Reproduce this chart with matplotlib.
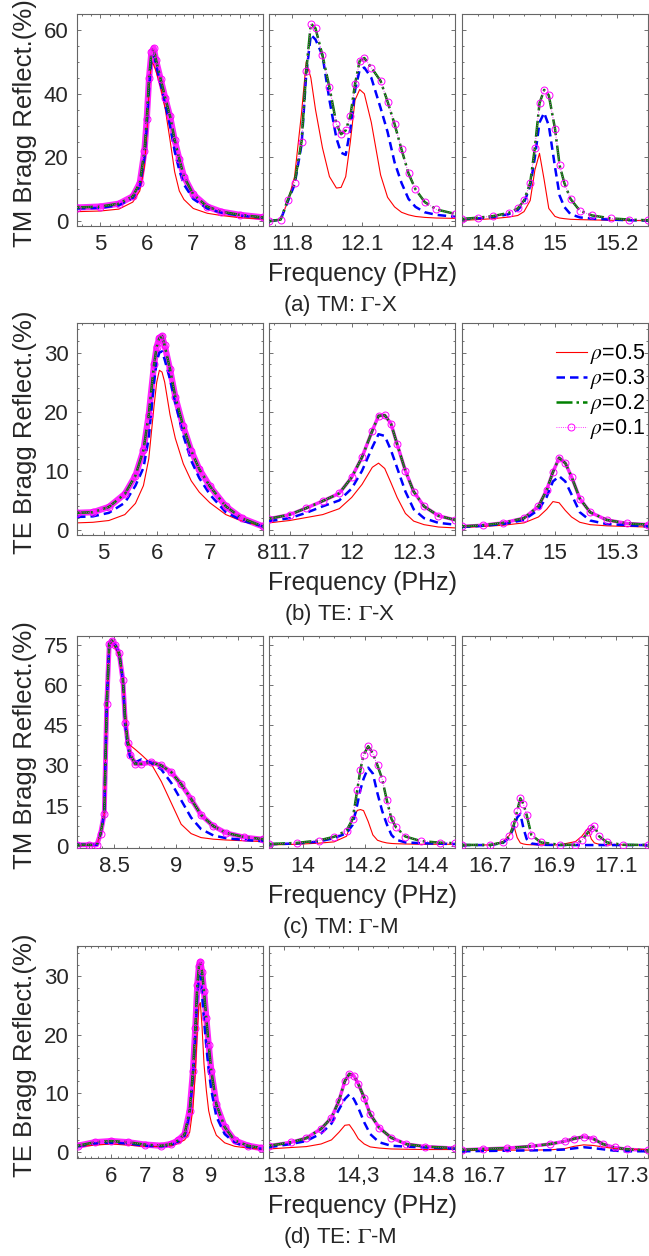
import matplotlib
matplotlib.use('Agg')
import matplotlib.pyplot as plt
from matplotlib.ticker import AutoMinorLocator

plt.rcParams['font.family'] = ['Liberation Sans', 'DejaVu Sans']
plt.rcParams['mathtext.fontset'] = 'stix'

# Bragg reflectance (%) vs frequency (PHz), four filling ratios rho = 0.5, 0.3, 0.2, 0.1
# green (rho=0.2) lies on top of the magenta (rho=0.1) curve everywhere

# ---- (a) TM, Gamma-X
a1_f = [4.5, 5.0, 5.4, 5.7, 5.85, 5.95, 6.0, 6.05, 6.1, 6.15, 6.2, 6.3, 6.4, 6.5, 6.6, 6.7, 6.8, 7.0, 7.3, 7.6, 8.0, 8.5]
a1_r05 = [3.0, 3.2, 3.8, 6.0, 9.5, 17, 27, 41, 50, 49, 47, 42, 35, 25.5, 15.5, 9.5, 6.8, 4.0, 2.5, 1.8, 1.1, 0.7]
a1_r03 = [4.0, 4.2, 5.0, 7.3, 11, 20, 30, 42, 51, 52, 49, 43, 36.5, 30, 22, 16, 11.5, 7.0, 4.0, 2.7, 1.8, 1.1]
a1_r01 = [4.3, 4.6, 5.5, 7.8, 12, 22, 32, 45, 53, 54.3, 50.5, 44.5, 38.5, 33, 25.5, 19.5, 14, 8.4, 4.6, 3.0, 2.0, 1.2]
a1_r02 = a1_r01

a2_f = [11.70, 11.75, 11.78, 11.81, 11.84, 11.86, 11.88, 11.90, 11.93, 11.96, 11.99, 12.01, 12.03, 12.05,
        12.07, 12.09, 12.11, 12.14, 12.18, 12.21, 12.24, 12.27, 12.30, 12.33, 12.37, 12.42, 12.50]
a2_r05 = [0.0, 0.5, 6, 14, 34, 50, 45, 35, 23, 14, 10.4, 10.6, 14, 25, 38, 41.3, 40.0, 31, 14.5, 7.5,
          4.5, 2.8, 2.0, 1.5, 1.2, 1.0, 0.9]
a2_r03 = [0.0, 0.5, 6, 11.5, 24, 46, 58.5, 57, 52, 38, 26, 21.5, 20.8, 29, 41, 47.5, 48.2, 45, 35.5, 28,
          18.5, 12, 7, 4.5, 2.8, 2.0, 1.4]
a2_r01 = [0.0, 0.5, 6.5, 12, 25, 47, 62, 60.5, 52, 42, 30.5, 27.3, 28.5, 33, 43, 50.3, 51.2, 48.2, 44, 37.5,
          30.5, 22.5, 15, 10, 6, 3.7, 2.3]
a2_r02 = a2_r01

a3_f = [14.70, 14.75, 14.80, 14.85, 14.88, 14.90, 14.92, 14.935, 14.95, 14.965, 14.98, 15.0, 15.015, 15.03,
        15.05, 15.08, 15.12, 15.18, 15.24, 15.30]
a3_r05 = [0.3, 0.5, 0.8, 1.3, 1.8, 3.0, 6.5, 16, 21.3, 13, 4, 1.5, 1.0, 0.8, 0.6, 0.5, 0.4, 0.3, 0.2, 0.2]
a3_r03 = [0.6, 0.9, 1.3, 2.2, 3.5, 5.8, 11, 20, 31, 34, 30, 17, 8, 4.5, 2.2, 1.2, 0.8, 0.5, 0.3, 0.2]
a3_r01 = [0.7, 1.1, 1.6, 2.6, 4.0, 6.5, 12, 23, 37, 41.2, 39.5, 29, 17.5, 12, 7, 3.3, 1.8, 0.9, 0.5, 0.3]
a3_r02 = a3_r01

# ---- (b) TE, Gamma-X
b1_f = [4.5, 4.8, 5.1, 5.4, 5.6, 5.75, 5.85, 5.95, 6.0, 6.05, 6.1, 6.15, 6.25, 6.35, 6.5, 6.65, 6.8, 7.0,
        7.3, 7.6, 8.0]
b1_r05 = [1.2, 1.3, 1.6, 2.6, 4.5, 7.5, 12, 21, 25, 27, 26.7, 25, 19.5, 15.5, 11.2, 8.3, 6.4, 4.6, 2.6, 1.5, 0.6]
b1_r03 = [2.2, 2.3, 2.9, 4.6, 7.5, 10.5, 15.5, 25, 28.5, 30, 30.2, 28.8, 25.5, 21.5, 16, 11.7, 8.8, 6.0, 3.0, 1.6, 0.6]
b1_r01 = [2.9, 3.0, 3.9, 6.1, 9.2, 13.5, 19.5, 28, 31, 32.5, 32.8, 31.2, 27.2, 22.5, 17.5, 13.4, 10.3, 7.4, 4.0, 2.0, 0.6]
b1_r02 = b1_r01

b2_f = [11.6, 11.7, 11.78, 11.86, 11.94, 12.0, 12.05, 12.1, 12.13, 12.16, 12.19, 12.22, 12.26, 12.3, 12.35, 12.42, 12.5]
b2_r05 = [1.2, 1.6, 2.1, 2.6, 3.6, 5.5, 7.7, 10.6, 11.3, 10.4, 8, 5.5, 2.8, 1.5, 0.9, 0.5, 0.35]
b2_r03 = [1.5, 2.0, 2.9, 4.0, 5.0, 7.0, 10, 14, 16.2, 15.9, 13.5, 10.5, 6.5, 3.5, 2.0, 1.2, 0.9]
b2_r01 = [1.9, 2.6, 3.7, 4.9, 6.2, 8.9, 12.3, 16.8, 19.3, 19.4, 18, 14.5, 10, 6.5, 4.0, 2.4, 1.7]
b2_r02 = b2_r01

b3_f = [14.55, 14.65, 14.75, 14.85, 14.92, 14.96, 14.99, 15.02, 15.05, 15.08, 15.12, 15.17, 15.25, 15.35, 15.45]
b3_r05 = [0.45, 0.6, 0.8, 1.2, 2.2, 3.5, 4.8, 4.6, 3.3, 2.2, 1.3, 0.9, 0.7, 0.6, 0.5]
b3_r03 = [0.5, 0.7, 1.0, 1.7, 3.4, 5.6, 8.2, 9.1, 8.2, 6, 3.0, 1.6, 1.0, 0.8, 0.6]
b3_r01 = [0.6, 0.8, 1.2, 2.0, 4.0, 6.8, 9.8, 12.2, 11.3, 9, 5.3, 3.0, 1.7, 1.1, 0.9]
b3_r02 = b3_r01

# ---- (c) TM, Gamma-M
c1_f = [8.2, 8.3, 8.36, 8.39, 8.42, 8.44, 8.46, 8.48, 8.51, 8.54, 8.57, 8.59, 8.61, 8.63, 8.67, 8.72, 8.8,
        8.88, 8.96, 9.04, 9.12, 9.2, 9.3, 9.4, 9.55, 9.7]
c1_r05 = [0.3, 0.3, 0.3, 4.5, 12, 53, 75.8, 76, 74, 71, 62, 50, 39, 37.5, 36, 34, 30.5, 24, 16, 8, 4.5, 3.0,
          2.4, 2.1, 1.8, 1.5]
c1_r03 = [0.3, 0.3, 0.3, 4.5, 12, 53, 75.5, 76.8, 75, 72, 62, 45, 37, 33, 31.2, 32.3, 31, 28.5, 23.5, 17,
          10.5, 6.2, 3.8, 2.8, 2.1, 1.6]
c1_r01 = [0.3, 0.3, 0.3, 4.5, 12, 53, 75.5, 76.8, 75, 72, 62, 46, 38.5, 34, 30.6, 30.6, 31.2, 30, 27.5, 23,
          17.5, 11.5, 7.3, 4.8, 3.2, 2.4]
c1_r02 = c1_r01

c2_f = [13.89, 13.98, 14.05, 14.1, 14.14, 14.16, 14.175, 14.185, 14.195, 14.21, 14.225, 14.24, 14.255, 14.27,
        14.285, 14.3, 14.33, 14.38, 14.44, 14.49]
c2_r05 = [0.25, 0.5, 0.9, 1.4, 3.5, 10, 13.2, 13.5, 13.1, 9, 4, 2, 1.4, 1.0, 0.8, 0.7, 0.6, 0.5, 0.5, 0.5]
c2_r03 = [0.5, 0.8, 1.5, 2.8, 4.6, 7.8, 15.5, 21, 25, 29.2, 27, 19.5, 13, 8, 4, 2.2, 1.2, 0.9, 0.7, 0.6]
c2_r01 = [0.6, 1.0, 1.9, 3.3, 5.6, 10, 21, 28.5, 34, 37.2, 34.5, 30, 25, 17, 10, 6.8, 3.4, 1.7, 1.1, 0.9]
c2_r02 = c2_r01

c3_f = [16.61, 16.7, 16.74, 16.76, 16.775, 16.785, 16.795, 16.805, 16.815, 16.83, 16.86, 16.92, 16.97, 16.99,
        17.01, 17.02, 17.03, 17.045, 17.07, 17.12, 17.2]
c3_r05 = [0.25, 0.25, 1.5, 3.8, 7.2, 3.0, 1.0, 0.6, 0.4, 0.3, 0.3, 0.3, 1.5, 3.5, 6.5, 2.5, 1.0, 0.5, 0.3, 0.3, 0.25]
c3_r03 = [0.2, 0.2, 1.0, 3.0, 7, 10.5, 11.9, 6.5, 2.5, 0.8, 0.3, 0.2, 0.2, 0.2, 0.2, 0.2, 0.2, 0.2, 0.2, 0.2, 0.2]
c3_r01 = [0.25, 0.25, 1.2, 3.5, 8, 13, 17.7, 15.5, 11.5, 4, 1.2, 0.3, 0.3, 2.0, 5.0, 6.5, 7.3, 3.5, 1.2, 0.3, 0.25]
c3_r02 = c3_r01

# ---- (d) TE, Gamma-M
d1_f = [5.0, 5.5, 6.0, 6.5, 7.0, 7.5, 7.8, 8.0, 8.2, 8.35, 8.45, 8.52, 8.58, 8.63, 8.67, 8.72, 8.78, 8.85,
        8.92, 9.0, 9.15, 9.4, 9.7, 10.1, 10.5]
d1_r05 = [0.85, 1.1, 1.3, 1.1, 0.9, 0.85, 1.0, 1.4, 2.0, 3.3, 7.5, 13.5, 21, 25, 25.5, 21.5, 15, 10.5, 7, 5,
          2.8, 1.5, 0.9, 0.6, 0.4]
d1_r03 = [0.9, 1.4, 1.5, 1.4, 1.0, 0.9, 1.1, 1.7, 2.7, 6.5, 13, 20, 27, 29.8, 30.3, 27, 22.5, 18, 14, 10.5,
          6.0, 3.0, 1.5, 0.8, 0.5]
d1_r01 = [1.0, 1.6, 1.8, 1.6, 1.2, 1.0, 1.3, 1.9, 3.0, 7.0, 13.8, 21.2, 28.6, 31.8, 32.5, 30.8, 27.5, 22.8,
          18.3, 13.8, 8.1, 4.2, 1.9, 1.0, 0.6]
d1_r02 = d1_r01

d2_f = [13.7, 13.85, 13.95, 14.05, 14.12, 14.17, 14.21, 14.24, 14.27, 14.3, 14.34, 14.38, 14.44, 14.52,
        14.62, 14.75, 14.95]
d2_r05 = [0.45, 0.7, 0.85, 1.3, 2.0, 3.3, 4.5, 4.6, 3.5, 2.2, 1.3, 0.8, 0.6, 0.45, 0.4, 0.35, 0.35]
d2_r03 = [0.75, 1.3, 1.8, 3.1, 4.8, 7.2, 9.0, 9.8, 9.0, 7.5, 5.0, 3.0, 1.6, 1.0, 0.85, 0.7, 0.5]
d2_r01 = [1.0, 1.6, 2.3, 3.9, 5.8, 8.7, 12.1, 13.3, 13, 11.6, 9.2, 6.4, 4.1, 2.4, 1.3, 0.85, 0.6]
d2_r02 = d2_r01

d3_f = [16.61, 16.7, 16.8, 16.9, 16.98, 17.04, 17.08, 17.12, 17.16, 17.2, 17.25, 17.3, 17.39]
d3_r05 = [0.2, 0.2, 0.25, 0.25, 0.3, 0.5, 0.9, 1.15, 1.05, 0.8, 0.5, 0.4, 0.35]
d3_r03 = [0.05, 0.1, 0.15, 0.2, 0.25, 0.35, 0.55, 0.75, 0.6, 0.4, 0.15, 0.05, 0.05]
d3_r01 = [0.3, 0.45, 0.6, 0.9, 1.3, 1.75, 2.2, 2.55, 2.2, 1.3, 0.7, 0.4, 0.2]
d3_r02 = d3_r01

rho_labels = [r'$\rho$=0.5', r'$\rho$=0.3', r'$\rho$=0.2', r'$\rho$=0.1']

rows = [
    dict(ylabel='TM Bragg Reflect.(%)', caption=r'(a) TM: $\Gamma$-X', ylim=(-1.5, 65), yticks=[0, 20, 40, 60],
         panels=[dict(d=(a1_f, a1_r05, a1_r03, a1_r02, a1_r01), xlim=(4.5, 8.5), xt=[5, 6, 7, 8],
                      xl=['5', '6', '7', '8'], band=4.5),
                 dict(d=(a2_f, a2_r05, a2_r03, a2_r02, a2_r01), xlim=(11.7, 12.5), xt=[11.8, 12.1, 12.4],
                      xl=['11.8', '12.1', '12.4'], band=0),
                 dict(d=(a3_f, a3_r05, a3_r03, a3_r02, a3_r01), xlim=(14.7, 15.3), xt=[14.8, 15, 15.2],
                      xl=['14.8', '15', '15.2'], band=0)]),
    dict(ylabel='TE Bragg Reflect.(%)', caption=r'(b) TE: $\Gamma$-X', ylim=(-0.85, 35), yticks=[0, 10, 20, 30],
         panels=[dict(d=(b1_f, b1_r05, b1_r03, b1_r02, b1_r01), xlim=(4.5, 8.0), xt=[5, 6, 7, 8],
                      xl=['5', '6', '7', '8'], band=4.5),
                 dict(d=(b2_f, b2_r05, b2_r03, b2_r02, b2_r01), xlim=(11.6, 12.5), xt=[11.7, 12, 12.3],
                      xl=['11.7', '12', '12.3'], band=2.5),
                 dict(d=(b3_f, b3_r05, b3_r03, b3_r02, b3_r01), xlim=(14.55, 15.45), xt=[14.7, 15, 15.3],
                      xl=['14.7', '15', '15.3'], band=2.5)]),
    dict(ylabel='TM Bragg Reflect.(%)', caption=r'(c) TM: $\Gamma$-M', ylim=(-0.9, 78.5),
         yticks=[0, 15, 30, 45, 60, 75],
         panels=[dict(d=(c1_f, c1_r05, c1_r03, c1_r02, c1_r01), xlim=(8.2, 9.7), xt=[8.5, 9, 9.5],
                      xl=['8.5', '9', '9.5'], band=3.5),
                 dict(d=(c2_f, c2_r05, c2_r03, c2_r02, c2_r01), xlim=(13.89, 14.49), xt=[14, 14.2, 14.4],
                      xl=['14', '14.2', '14.4'], band=0),
                 dict(d=(c3_f, c3_r05, c3_r03, c3_r02, c3_r01), xlim=(16.61, 17.2), xt=[16.7, 16.9, 17.1],
                      xl=['16.7', '16.9', '17.1'], band=0)]),
    dict(ylabel='TE Bragg Reflect.(%)', caption=r'(d) TE: $\Gamma$-M', ylim=(-1.1, 35.2), yticks=[0, 10, 20, 30],
         panels=[dict(d=(d1_f, d1_r05, d1_r03, d1_r02, d1_r01), xlim=(4.97, 10.55), xt=[6, 7, 8, 9],
                      xl=['6', '7', '8', '9'], band=4.5),
                 dict(d=(d2_f, d2_r05, d2_r03, d2_r02, d2_r01), xlim=(13.7, 14.95), xt=[13.8, 14.3, 14.8],
                      xl=['13.8', '14,3', '14.8'], band=2.5),
                 dict(d=(d3_f, d3_r05, d3_r03, d3_r02, d3_r01), xlim=(16.61, 17.39), xt=[16.7, 17, 17.3],
                      xl=['16.7', '17', '17.3'], band=2.5)]),
]

W, H = 649, 1256
fig = plt.figure(figsize=(W / 100, H / 100), dpi=100)
col_x = [77, 269, 462]
row_y = [14, 323, 636, 946]
aw, ah = 186, 212
tcol = '#262626'

for i, row in enumerate(rows):
    for j, p in enumerate(row['panels']):
        ax = fig.add_axes([col_x[j] / W, 1 - (row_y[i] + ah) / H, aw / W, ah / H])
        f, r05, r03, r02, r01 = p['d']
        if p['band']:
            # densely sampled rho=0.1 markers merge into a band
            ax.plot(f, r01, color='magenta', lw=p['band'], alpha=0.85, solid_capstyle='round', zorder=1)
        ax.plot(f, r05, color='red', lw=0.8, label=rho_labels[0], zorder=2)
        ax.plot(f, r03, color='blue', lw=1.8, dashes=(3.4, 2.0), label=rho_labels[1], zorder=3)
        ax.plot(f, r02, color=(0, 0.5, 0), lw=1.8, ls='-.', label=rho_labels[2], zorder=4)
        ax.plot(f, r01, color='magenta', lw=0.6, ls=':', marker='o', mfc='none', ms=5, mew=0.7,
                label=rho_labels[3], zorder=5)

        ax.set_xlim(p['xlim'])
        ax.set_ylim(row['ylim'])
        ax.set_xticks(p['xt'], p['xl'])
        ax.set_yticks(row['yticks'])
        ax.xaxis.set_minor_locator(AutoMinorLocator())
        ax.yaxis.set_minor_locator(AutoMinorLocator())
        ax.tick_params(which='both', direction='in', top=True, right=True, colors='0.35',
                       labelcolor=tcol, labelsize=16, width=0.6)
        ax.tick_params(which='major', length=3, pad=6)
        ax.tick_params(which='minor', length=1.6)
        if j > 0:
            ax.tick_params(labelleft=False)
        for s in ax.spines.values():
            s.set_color('0.4')
            s.set_linewidth(0.8)

        if i == 1 and j == 2:
            ax.legend(loc='upper right', bbox_to_anchor=(1.03, 0.95), frameon=False, fontsize=15.5,
                      handlelength=1.4, handletextpad=0.15, labelspacing=0.05, borderaxespad=0.2,
                      borderpad=0.2)

    yc = 1 - (row_y[i] + ah / 2 + 3) / H
    fig.text(25 / W, yc, row['ylabel'], rotation=90, ha='center', va='center', fontsize=18.5, color=tcol)
    fig.text(362 / W, 1 - (row_y[i] + ah + 48) / H, 'Frequency (PHz)', ha='center', va='center',
             fontsize=18, color=tcol)
    fig.text(340 / W, 1 - (row_y[i] + ah + 79) / H, row['caption'], ha='center', va='center',
             fontsize=16, color=tcol)

fig.savefig('out.png', dpi=100)
